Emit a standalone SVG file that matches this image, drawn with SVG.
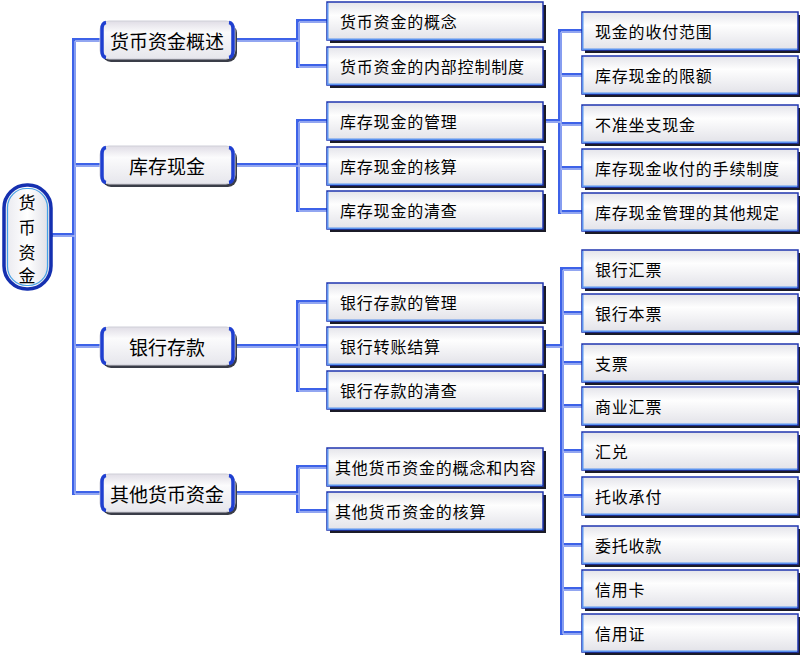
<svg xmlns="http://www.w3.org/2000/svg" xmlns:xlink="http://www.w3.org/1999/xlink" width="800" height="655" viewBox="0 0 800 655">
<defs>
<linearGradient id="gBox" x1="0" y1="0" x2="0" y2="1">
<stop offset="0" stop-color="#e4e4ea"/>
<stop offset="0.35" stop-color="#fefefe"/>
<stop offset="1" stop-color="#e2e2e8"/>
</linearGradient>
<linearGradient id="gPill" x1="0" y1="0" x2="0" y2="1">
<stop offset="0" stop-color="#e0dde6"/>
<stop offset="0.3" stop-color="#fbfbfc"/>
<stop offset="1" stop-color="#e6e6ec"/>
</linearGradient>
<linearGradient id="gRoot" x1="0" y1="0" x2="1" y2="0">
<stop offset="0" stop-color="#e8e8ee"/>
<stop offset="0.5" stop-color="#ffffff"/>
<stop offset="1" stop-color="#dcdce4"/>
</linearGradient>
<g id="box">
<rect x="3" y="3" width="216" height="38" fill="#1b1b28"/>
<rect x="0" y="0" width="216" height="38" fill="url(#gBox)" stroke="#2036b0" stroke-width="1.5"/>
<path d="M0.75,1 V37.25 H215" stroke="#5b93f0" stroke-width="1.5" fill="none"/>
</g>
<g id="pill">
<rect x="2" y="3" width="135" height="38" rx="9" fill="#3a3d48"/>
<rect x="0" y="0" width="135" height="38" rx="9" fill="url(#gPill)" stroke="#cfcfd8" stroke-width="1"/>
<path d="M6,1.5 Q2,2 2,8 V30 Q2,36 6,36.5" stroke="#1f3fd0" stroke-width="3.5" fill="none"/>
<path d="M129,1.5 Q133,2 133,8 V30 Q133,36 129,36.5" stroke="#1f3fd0" stroke-width="3.5" fill="none"/>
</g>
</defs>
<style>
.c{fill:none;stroke:#3d62e8;stroke-width:4;stroke-linecap:square}
.h{fill:none;stroke:#aebdf4;stroke-width:1.3;stroke-linecap:butt}
.t1{font-family:"Noto Sans CJK SC","Noto Sans CJK JP",sans-serif;font-size:19px;fill:#000;text-anchor:middle;dominant-baseline:central}
.t2{font-family:"Noto Sans CJK SC","Noto Sans CJK JP",sans-serif;font-size:16px;letter-spacing:0.8px;fill:#000;dominant-baseline:central}
.t0{font-family:"Noto Sans CJK SC","Noto Sans CJK JP",sans-serif;font-size:17px;fill:#000;text-anchor:middle;dominant-baseline:central}
</style>
<rect width="800" height="655" fill="#ffffff"/>

<g id="connectors">
<path class="c" d="M52,235 H74 M74,40 V493 M74,40 H100 M74,165 H100 M74,346 H100 M74,493 H100
M235,40 H298 M298,21 V66 M298,21 H327 M298,66 H327
M235,165 H327 M298,121 V210 M298,121 H327 M298,210 H327
M235,346 H327 M298,302 V390 M298,302 H327 M298,390 H327
M235,493 H298 M298,467 V511 M298,467 H327 M298,511 H327
M543,121 H560 M560,31 V212 M560,31 H582 M560,75 H582 M560,124 H582 M560,168 H582 M560,212 H582
M543,346 H562 M562,269 V633 M562,269 H582 M562,313 H582 M562,363 H582 M562,406 H582 M562,451 H582 M562,496 H582 M562,545 H582 M562,589 H582 M562,633 H582"/>
<path class="h" transform="translate(1,1)" d="M52,235 H74 M74,40 V493 M74,40 H100 M74,165 H100 M74,346 H100 M74,493 H100
M235,40 H298 M298,21 V66 M298,21 H327 M298,66 H327
M235,165 H327 M298,121 V210 M298,121 H327 M298,210 H327
M235,346 H327 M298,302 V390 M298,302 H327 M298,390 H327
M235,493 H298 M298,467 V511 M298,467 H327 M298,511 H327
M543,121 H560 M560,31 V212 M560,31 H582 M560,75 H582 M560,124 H582 M560,168 H582 M560,212 H582
M543,346 H562 M562,269 V633 M562,269 H582 M562,313 H582 M562,363 H582 M562,406 H582 M562,451 H582 M562,496 H582 M562,545 H582 M562,589 H582 M562,633 H582"/>
</g>

<g id="root">
<rect x="4" y="185" width="47" height="104" rx="23" fill="url(#gRoot)" stroke="#1530b0" stroke-width="3.5"/>
<rect x="7.5" y="188.5" width="40" height="97" rx="19" fill="none" stroke="#45a0e6" stroke-width="1.2"/>
<text class="t0" x="27" y="201">货</text>
<text class="t0" x="27" y="226">币</text>
<text class="t0" x="27" y="251">资</text>
<text class="t0" x="27" y="274">金</text>
</g>

<g id="n-gaishu"><use href="#pill" xlink:href="#pill" x="100" y="21"/><text class="t1" x="167" y="40">货币资金概述</text></g>
<g id="n-kucun"><use href="#pill" xlink:href="#pill" x="100" y="146"/><text class="t1" x="167" y="165">库存现金</text></g>
<g id="n-yinhang"><use href="#pill" xlink:href="#pill" x="100" y="327"/><text class="t1" x="167" y="346">银行存款</text></g>
<g id="n-qita"><use href="#pill" xlink:href="#pill" x="100" y="474"/><text class="t1" x="167" y="493">其他货币资金</text></g>

<g id="n-a1"><use href="#box" xlink:href="#box" x="327" y="2"/><text class="t2" x="340" y="21">货币资金的概念</text></g>
<g id="n-a2"><use href="#box" xlink:href="#box" x="327" y="47"/><text class="t2" x="340" y="66">货币资金的内部控制制度</text></g>
<g id="n-b1"><use href="#box" xlink:href="#box" x="327" y="102"/><text class="t2" x="340" y="121">库存现金的管理</text></g>
<g id="n-b2"><use href="#box" xlink:href="#box" x="327" y="147"/><text class="t2" x="340" y="166">库存现金的核算</text></g>
<g id="n-b3"><use href="#box" xlink:href="#box" x="327" y="191"/><text class="t2" x="340" y="210">库存现金的清查</text></g>
<g id="n-c1"><use href="#box" xlink:href="#box" x="327" y="283"/><text class="t2" x="340" y="302">银行存款的管理</text></g>
<g id="n-c2"><use href="#box" xlink:href="#box" x="327" y="327"/><text class="t2" x="340" y="346">银行转账结算</text></g>
<g id="n-c3"><use href="#box" xlink:href="#box" x="327" y="371"/><text class="t2" x="340" y="390">银行存款的清查</text></g>
<g id="n-d1"><use href="#box" xlink:href="#box" x="327" y="448"/><text class="t2" x="335" y="467">其他货币资金的概念和内容</text></g>
<g id="n-d2"><use href="#box" xlink:href="#box" x="327" y="492"/><text class="t2" x="335" y="511">其他货币资金的核算</text></g>

<g id="n-e1"><use href="#box" xlink:href="#box" x="582" y="12"/><text class="t2" x="595" y="31">现金的收付范围</text></g>
<g id="n-e2"><use href="#box" xlink:href="#box" x="582" y="56"/><text class="t2" x="595" y="75">库存现金的限额</text></g>
<g id="n-e3"><use href="#box" xlink:href="#box" x="582" y="105"/><text class="t2" x="595" y="124">不准坐支现金</text></g>
<g id="n-e4"><use href="#box" xlink:href="#box" x="582" y="149"/><text class="t2" x="595" y="168">库存现金收付的手续制度</text></g>
<g id="n-e5"><use href="#box" xlink:href="#box" x="582" y="193"/><text class="t2" x="595" y="212">库存现金管理的其他规定</text></g>

<g id="n-f1"><use href="#box" xlink:href="#box" x="582" y="250"/><text class="t2" x="595" y="269">银行汇票</text></g>
<g id="n-f2"><use href="#box" xlink:href="#box" x="582" y="294"/><text class="t2" x="595" y="313">银行本票</text></g>
<g id="n-f3"><use href="#box" xlink:href="#box" x="582" y="344"/><text class="t2" x="595" y="363">支票</text></g>
<g id="n-f4"><use href="#box" xlink:href="#box" x="582" y="387"/><text class="t2" x="595" y="406">商业汇票</text></g>
<g id="n-f5"><use href="#box" xlink:href="#box" x="582" y="432"/><text class="t2" x="595" y="451">汇兑</text></g>
<g id="n-f6"><use href="#box" xlink:href="#box" x="582" y="477"/><text class="t2" x="595" y="496">托收承付</text></g>
<g id="n-f7"><use href="#box" xlink:href="#box" x="582" y="526"/><text class="t2" x="595" y="545">委托收款</text></g>
<g id="n-f8"><use href="#box" xlink:href="#box" x="582" y="570"/><text class="t2" x="595" y="589">信用卡</text></g>
<g id="n-f9"><use href="#box" xlink:href="#box" x="582" y="614"/><text class="t2" x="595" y="633">信用证</text></g>
</svg>
